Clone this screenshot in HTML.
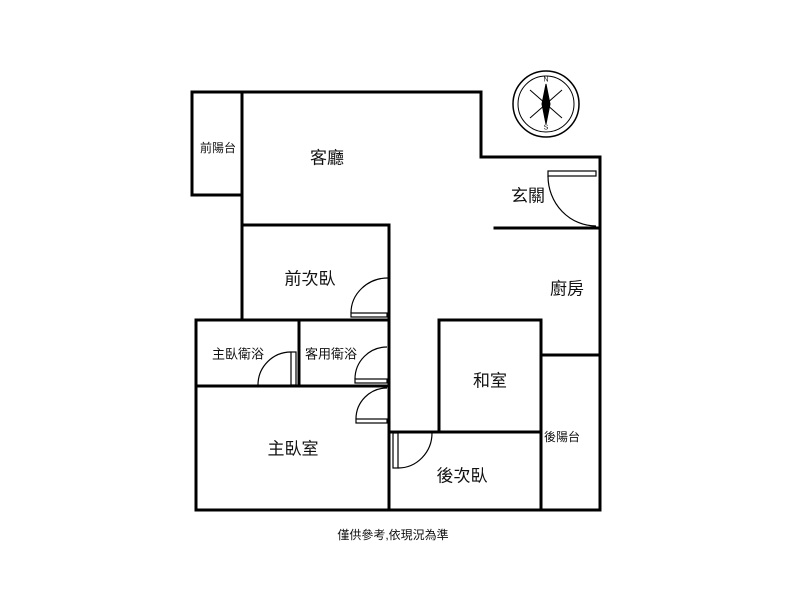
<!DOCTYPE html>
<html><head><meta charset="utf-8"><style>
body{margin:0;background:#fff}
svg text{font-family:"Liberation Sans","Noto Sans CJK TC",sans-serif;fill:#111;text-anchor:middle;dominant-baseline:central}
</style></head><body>
<svg width="800" height="600" viewBox="0 0 800 600" xmlns="http://www.w3.org/2000/svg">
<g stroke="#000" stroke-width="3" fill="none" stroke-linecap="square">
<path d="M192 92H481V157H600V510H196V320H242V92"/>
<path d="M192 92V195H242"/>
<path d="M242 225H389V510"/>
<path d="M196 320H389"/>
<path d="M299 320V386"/>
<path d="M196 386H389"/>
<path d="M495 228H600"/>
<path d="M439 432V320H541V510"/>
<path d="M389 432H541"/>
<path d="M541 355H600"/>
</g>
<g stroke="#000" stroke-width="1.2" fill="#fff">
<rect x="548" y="171" width="48" height="5"/>
<path d="M548 176A48 50 0 0 0 596 226" fill="none"/>
<rect x="351" y="313" width="36" height="4"/>
<path d="M351 313A37 35 0 0 1 388 278" fill="none"/>
<rect x="291" y="352" width="5" height="33"/>
<path d="M258 385A33 33 0 0 1 291 352" fill="none"/>
<rect x="355" y="379" width="32" height="4"/>
<path d="M355 379A32 32 0 0 1 387 347" fill="none"/>
<rect x="356" y="419" width="31" height="4"/>
<path d="M356 419A31 31 0 0 1 387 388" fill="none"/>
<rect x="393" y="433" width="5" height="35"/>
<path d="M398 468A34 35 0 0 0 432 433" fill="none"/>
</g>
<g stroke="#000" fill="none">
<circle cx="546" cy="104" r="33" stroke-width="1.5"/>
<circle cx="546" cy="104" r="28" stroke-width="1"/>
<path d="M546 84L550 104L546 124L542 104Z" fill="#000"/>
<path d="M530 90L562 118M562 90L530 118" stroke-width="1"/>
</g>
<text x="546" y="80" font-size="7">N</text>
<text x="546" y="128" font-size="7">S</text>
<text x="218" y="148" font-size="12">前陽台</text>
<text x="327" y="158" font-size="17">客廳</text>
<text x="528" y="196" font-size="17">玄關</text>
<text x="310" y="279" font-size="17">前次臥</text>
<text x="567" y="289" font-size="17">廚房</text>
<text x="238" y="354" font-size="13">主臥衛浴</text>
<text x="331" y="354" font-size="13">客用衛浴</text>
<text x="490" y="381" font-size="17">和室</text>
<text x="293" y="449" font-size="17">主臥室</text>
<text x="462" y="476" font-size="17">後次臥</text>
<text x="562" y="437" font-size="12">後陽台</text>
<text x="393" y="535" font-size="12">僅供參考,依現況為準</text>
</svg>
</body></html>
